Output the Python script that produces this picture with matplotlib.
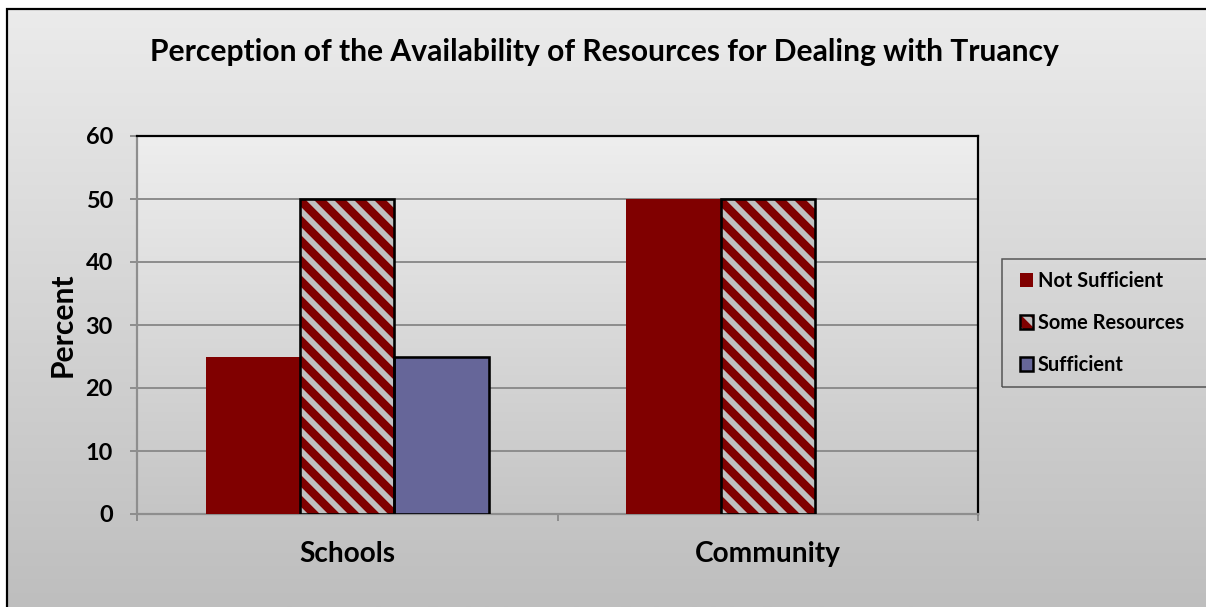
import matplotlib
matplotlib.use("Agg")
import matplotlib.pyplot as plt
import numpy as np
from matplotlib.patches import Patch, Rectangle
from matplotlib.legend_handler import HandlerPatch, HandlerTuple

categories = ["Schools", "Community"]
series_names = ["Not Sufficient", "Some Resources", "Sufficient"]
not_sufficient = [25, 50]
some_resources = [50, 50]
sufficient = [25, 0]
y_ticks = [0, 10, 20, 30, 40, 50, 60]
title = "Perception of the Availability of Resources for Dealing with Truancy"

DPI = 120
W, H = 1206, 607
plt.rcParams['font.family'] = ['Lato', 'DejaVu Sans']
plt.rcParams['font.weight'] = 'bold'
plt.rcParams['hatch.linewidth'] = 5.0

def px(v):  # pixels -> points
    return v * 72.0 / DPI

fig = plt.figure(figsize=(W / DPI, H / DPI), dpi=DPI)
fig.patch.set_facecolor('white')

# chart background gradient
bg = fig.add_axes([0, 0, 1, 1], zorder=-10)
grad = np.linspace(236, 190, 256).reshape(-1, 1) / 255.0
bg.imshow(np.dstack([grad, grad, grad]), aspect='auto', extent=[0, 1, 0, 1])
bg.set_xlim(0, 1); bg.set_ylim(0, 1)
bg.axis('off')
bg.add_patch(Rectangle((0, 1 - 9 / H), 1, 9 / H, facecolor='white', edgecolor='none'))
bg.add_patch(Rectangle((0, 0), 7 / W, 1, facecolor='white', edgecolor='none'))
bg.add_patch(Rectangle((7 / W, -0.1), 1.2, 1 - 9 / H + 0.1, facecolor='none',
                       edgecolor='black', linewidth=px(2.2)))

left, right = 137 / W, 978 / W
bottom, top = 1 - 514 / H, 1 - 136 / H
ax = fig.add_axes([left, bottom, right - left, top - bottom])

pgrad = np.linspace(238, 197, 256).reshape(-1, 1) / 255.0
ax.imshow(np.dstack([pgrad, pgrad, pgrad]), aspect='auto', extent=[0, 1, 0, 1],
          transform=ax.transAxes, zorder=0)
ax.set_xlim(-0.5, len(categories) - 0.5)
ax.set_ylim(0, 60)

ax.set_yticks(y_ticks)
ax.yaxis.grid(True, color='#8e8e8e', linewidth=px(2))
ax.set_axisbelow(True)
for gl in ax.get_ygridlines():
    gl.set_zorder(1)

x = np.arange(len(categories))
w = 0.224
red = '#800000'
gray = '#c0c0c0'
blue = '#666699'

ax.bar(x - w, not_sufficient, w, color=red, edgecolor='none', zorder=3)
ax.bar(x, some_resources, w, color=gray, edgecolor=red, hatch='\\\\', linewidth=0, zorder=3)
ax.bar(x, some_resources, w, color='none', edgecolor='black', linewidth=px(2.6), zorder=4)
ax.bar(x + w, sufficient, w, color=blue, edgecolor='black',
       linewidth=[px(2.6) if v > 0 else 0 for v in sufficient], zorder=3)

ax.set_xticks(x)
ax.set_xticklabels(categories, fontsize=px(28), fontweight='bold')
ax.set_xticks(np.arange(-0.5, len(categories), 1.0), minor=True)
ax.tick_params(axis='x', which='major', length=0, pad=px(27))
ax.tick_params(axis='x', which='minor', length=px(7), width=px(2), color='#8e8e8e', direction='out')
ax.tick_params(axis='y', length=px(7), width=px(2), color='#8e8e8e', pad=px(17),
               labelsize=px(23.5))
for lab in ax.get_yticklabels():
    lab.set_fontweight('bold')

ax.spines['left'].set_color('#8e8e8e')
ax.spines['bottom'].set_color('#8e8e8e')
for s in ['left', 'bottom']:
    ax.spines[s].set_linewidth(px(2.2))
for s in ['top', 'right']:
    ax.spines[s].set_color('black')
    ax.spines[s].set_linewidth(px(2.2))

fig.text(63 / W, 1 - 325 / H, "Percent", rotation=90, ha='center', va='center',
         fontsize=px(30), fontweight='bold')
fig.text(604 / W, 1 - 52 / H, title, ha='center', va='center',
         fontsize=px(30), fontweight='bold')

h1 = Patch(facecolor=red, edgecolor='none')
h2a = Patch(facecolor=gray, edgecolor=red, hatch='\\\\', linewidth=0)
h2b = Patch(facecolor='none', edgecolor='black', linewidth=px(2.5))
h3 = Patch(facecolor=blue, edgecolor='black', linewidth=px(2.5))
leg = fig.legend([h1, (h2a, h2b), h3], series_names,
                 loc='upper left',
                 bbox_to_anchor=(1002 / W, 1 - 386 / H, (1208 - 1002) / W, 127 / H),
                 mode='expand',
                 handler_map={Patch: HandlerPatch(xpad=0.3),
                              tuple: HandlerTuple(ndivide=1, xpad=0.3)},
                 prop={'size': px(20), 'weight': 'bold', 'family': ['Lato', 'DejaVu Sans']},
                 frameon=True, fancybox=False,
                 handlelength=0.95, handleheight=0.65, handletextpad=0.25,
                 labelspacing=1.1, borderpad=0.6, borderaxespad=0)
leg.get_frame().set_edgecolor('#333333')
leg.get_frame().set_linewidth(px(1.5))
leg.get_frame().set_facecolor('none')

fig.savefig('out.png', dpi=DPI)
